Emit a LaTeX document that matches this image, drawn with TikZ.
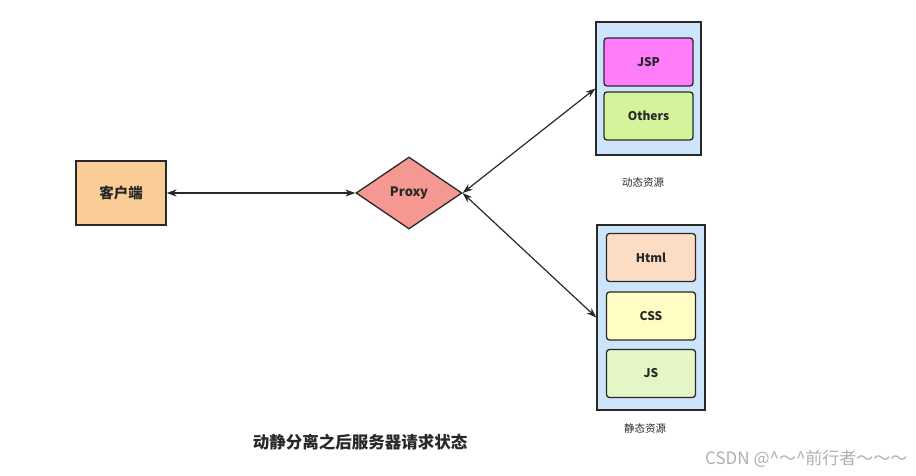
\documentclass[tikz,border=0pt]{standalone}
\usepackage{fontspec}
\setmainfont{Noto Sans CJK SC}
\usepackage{tikz}
\usetikzlibrary{shapes.geometric,arrows.meta}

\definecolor{clientfill}{RGB}{250,204,150}
\definecolor{proxyfill}{RGB}{245,152,146}
\definecolor{groupfill}{RGB}{206,228,251}
\definecolor{jspfill}{RGB}{255,125,250}
\definecolor{othersfill}{RGB}{212,244,156}
\definecolor{htmlfill}{RGB}{253,220,196}
\definecolor{cssfill}{RGB}{255,252,196}
\definecolor{jsfill}{RGB}{228,246,198}
\definecolor{inkline}{RGB}{40,40,40}
\definecolor{marktext}{RGB}{175,175,175}

\tikzset{
  groupbox/.style={draw=inkline, line width=1.3pt, fill=groupfill, inner sep=0pt},
  itembox/.style={draw=inkline, line width=1.3pt, rounded corners=3pt, inner sep=0pt,
    minimum width=89pt, minimum height=48pt, font=\bfseries\fontsize{12}{14}\selectfont, text=inkline},
  link/.style={line width=1.2pt, draw=inkline, {Stealth[length=10pt,width=7pt]}-{Stealth[length=10pt,width=7pt]}},
  caption/.style={font=\fontsize{10.5}{12}\selectfont, text=inkline}
}

\begin{document}
\begin{tikzpicture}[x=1pt,y=-1pt]
    \useasboundingbox (0,0) rectangle (916,475);

    % Client
    \node [draw=inkline, line width=1.3pt, fill=clientfill, minimum width=90pt, minimum height=64pt,
      inner sep=0pt, font=\bfseries\fontsize{14.5}{16}\selectfont, text=inkline] (client) at (121,193) {客户端};
    % Proxy
    \node [diamond, aspect=1.47, draw=inkline, line width=1.3pt, fill=proxyfill, minimum width=106pt,
      minimum height=72pt, inner sep=0pt, font=\bfseries\fontsize{13}{15}\selectfont, text=inkline] (proxy) at (409,193) {Proxy};

    % Dynamic group
    \node [groupbox, minimum width=105pt, minimum height=133pt] (dyn) at (648.5,88.5) {};
    \node [itembox, fill=jspfill] (jsp) at (648.5,62) {JSP};
    \node [itembox, fill=othersfill] (others) at (648.5,116) {Others};
    \node [caption] (dynlabel) at (643,182) {动态资源};

    % Static group
    \node [groupbox, minimum width=108pt, minimum height=185pt] (sta) at (651,317.5) {};
    \node [itembox, fill=htmlfill] (html) at (651,257.5) {Html};
    \node [itembox, fill=cssfill] (css) at (651,316) {CSS};
    \node [itembox, fill=jsfill] (js) at (651,373.5) {JS};
    \node [caption] (stalabel) at (645,428) {静态资源};

    % Links
    \draw [link] (client.east) -- (proxy.west);
    \draw [link] (proxy.east) -- (dyn.west);
    \draw [link] (proxy.east) -- (sta.west);

    % Title
    \node [font=\bfseries\fontsize{16.5}{18}\selectfont, text=inkline] (title) at (360,442) {动静分离之后服务器请求状态};
    % Watermark
    \node [anchor=east, font=\fontsize{17}{19}\selectfont, text=marktext] (mark) at (911,459) {CSDN @\^{}～\^{}前行者～～～};
\end{tikzpicture}
\end{document}
